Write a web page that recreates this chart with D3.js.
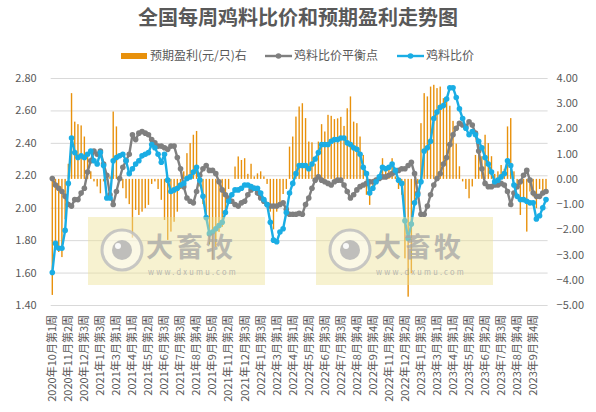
<!DOCTYPE html>
<html>
<head>
<meta charset="utf-8">
<title>全国每周鸡料比价和预期盈利走势图</title>
<script src="https://d3js.org/d3.v7.min.js"></script>
<style>
    body { margin: 0; background: #fff; }
    text { font-family: "Noto Sans CJK SC", "Noto Sans", sans-serif; fill: #595959; }
</style>
</head>
<body>
<script>
    // x axis labels, one every 5 weeks
    var tickLabels = [
        "2020年10月第1周", "2020年11月第2周", "2020年12月第3周", "2021年1月第3周",
        "2021年3月第1周", "2021年4月第1周", "2021年5月第2周", "2021年6月第3周",
        "2021年7月第3周", "2021年8月第4周", "2021年9月第5周", "2021年11月第2周",
        "2021年12月第3周", "2022年1月第3周", "2022年3月第1周", "2022年4月第1周",
        "2022年5月第2周", "2022年6月第3周", "2022年7月第3周", "2022年8月第4周",
        "2022年9月第4周", "2022年11月第2周", "2022年12月第2周", "2023年1月第3周",
        "2023年3月第1周", "2023年4月第1周", "2023年5月第2周", "2023年6月第2周",
        "2023年7月第3周", "2023年8月第4周", "2023年9月第4周"
    ];

    // 预期盈利(元/只), right axis
    var profit = [
        -4.6, -2.7, -2.9, -3.1, -1.6, 0.6, 3.40, 2.27, 2.17, 2.12,
        1.68, 0.9, 0.3, -0.1, -0.3, -0.57, -0.1, -0.05, 0.1, 2.67,
        2.08, 0.1, -0.37, -0.77, -1.0, -2.33, -1.23, -1.43, -1.30, -1.16,
        -1.03, -0.2, -0.1, -0.4, -0.83, -1.63, -2.42, -2.09, -1.7, -1.3,
        -0.4, 0.3, 1.02, 1.42, 1.75, 1.90, -0.3, -1.0, -1.6, -2.6,
        -3.2, -2.7, -2.1, -1.9, -1.3, -0.4, 0.0, 0.49, 0.89, 0.75,
        0.82, 0.2, 0.6, 0.1, 0.22, 0.3, 0.1, -0.2, -1.3, -2.0,
        -1.3, -1.1, -0.6, -0.4, 1.28, 1.68, 2.47, 2.87, 3.00, 2.41,
        1.48, 1.45, 0.6, 1.48, 2.17, 1.88, 2.54, 2.5, 2.37, 2.4,
        2.46, 2.1, 2.8, 3.27, 2.27, 2.21, 1.68, 0.95, -0.63, -1.03,
        -0.4, 0.05, 0.1, 0.82, 0.5, 0.55, 0.82, 0.1, -0.4, -0.63,
        -3.15, -4.67, -3.74, -1.0, -0.2, 2.21, 3.40, 3.27, 3.66, 3.73,
        3.6, 3.66, 3.2, 3.1, 2.9, 2.3, 1.4, 0.5, -0.1, -0.4,
        -0.77, -0.3, 0.95, 1.5, 0.9, 1.75, 1.42, 0.9, 0.2, 0.3,
        0.55, 0.4, 2.08, 2.41, 0.3, -0.3, -1.43, -0.9, -2.09, -0.5,
        -0.7, -1.16, -0.4, -0.57, -0.4
    ];

    // 鸡料比价平衡点, left axis
    var breakEven = [
        2.18, 2.14, 2.12, 2.10, 2.07, 2.02, 2.01, 2.05, 2.05, 2.09,
        2.12, 2.22, 2.29, 2.35, 2.33, 2.35, 2.27, 2.20, 2.08, 2.02,
        2.10, 2.18, 2.25, 2.29, 2.33, 2.45, 2.42, 2.46, 2.47, 2.46,
        2.45, 2.42, 2.40, 2.38, 2.38, 2.37, 2.36, 2.38, 2.38, 2.31,
        2.24, 2.13, 2.06, 2.04, 2.03, 2.10, 2.20, 2.24, 2.26, 2.23,
        2.23, 2.21, 2.16, 2.11, 2.08, 2.06, 2.04, 2.02, 2.01, 2.03,
        2.04, 2.08, 2.11, 2.12, 2.09, 2.06, 2.04, 2.02, 2.01, 2.01,
        2.01, 2.02, 2.03, 1.99, 1.96, 1.96, 1.96, 1.965, 1.96, 2.02,
        2.06, 2.12, 2.17, 2.19, 2.17, 2.16, 2.15, 2.14, 2.16, 2.17,
        2.17, 2.14, 2.10, 2.06, 2.08, 2.11, 2.13, 2.14, 2.15, 2.16,
        2.16, 2.17, 2.18, 2.19, 2.19, 2.20, 2.21, 2.22, 2.23, 2.24,
        2.24, 2.26, 2.28, 2.21, 2.09, 1.96, 1.96, 2.01, 2.08, 2.14,
        2.18, 2.21, 2.27, 2.31, 2.39, 2.45, 2.49, 2.52, 2.51, 2.50,
        2.53, 2.51, 2.46, 2.35, 2.24, 2.15, 2.13, 2.13, 2.14, 2.14,
        2.15, 2.14, 2.10, 2.02, 2.09, 2.13, 2.16, 2.20, 2.23, 2.17,
        2.09, 2.07, 2.07, 2.09, 2.10
    ];

    // 鸡料比价, left axis
    var ratio = [
        1.60, 1.78, 1.75, 1.75, 1.86, 2.15, 2.43, 2.34, 2.31, 2.32,
        2.31, 2.33, 2.35, 2.29, 2.27, 2.34, 2.26, 2.06, 2.06, 2.29,
        2.31, 2.32, 2.33, 2.29, 2.21, 2.24, 2.27, 2.29, 2.32, 2.33,
        2.34, 2.39, 2.37, 2.33, 2.28, 2.33, 2.17, 2.10, 2.11, 2.12,
        2.14, 2.15, 2.18, 2.19, 2.22, 2.25, 2.17, 2.07, 1.94, 1.84,
        1.85, 1.87, 1.89, 1.91, 1.97, 2.04, 2.08, 2.11, 2.11, 2.12,
        2.14, 2.14, 2.13, 2.12, 2.12, 2.09, 2.05, 2.02, 1.91, 1.80,
        1.79, 1.85, 1.87, 1.97, 2.09, 2.15, 2.21, 2.26, 2.26, 2.26,
        2.24, 2.27, 2.30, 2.34, 2.39, 2.39, 2.39, 2.41, 2.42, 2.42,
        2.43, 2.43, 2.40, 2.39, 2.37, 2.36, 2.33, 2.25, 2.21, 2.09,
        2.12, 2.16, 2.19, 2.25, 2.24, 2.25, 2.27, 2.23, 2.17, 2.15,
        1.92, 1.81, 1.90, 2.03, 2.08, 2.16, 2.35, 2.37, 2.41, 2.55,
        2.59, 2.62, 2.63, 2.67, 2.74, 2.74, 2.68, 2.61, 2.55, 2.49,
        2.45, 2.47, 2.45, 2.41, 2.37, 2.31, 2.27, 2.22, 2.16, 2.17,
        2.19, 2.21, 2.29, 2.26, 2.14, 2.07, 2.05, 2.05, 2.04, 2.03,
        2.03, 1.93, 1.95, 2.00, 2.05
    ];

    var leftTicks = [1.4, 1.6, 1.8, 2.0, 2.2, 2.4, 2.6, 2.8];
    var rightTicks = [-5, -4, -3, -2, -1, 0, 1, 2, 3, 4];

    var width = 596, height = 412;
    var plotLeft = 50.7, plotRight = 547.6, plotTop = 78, plotBottom = 305;

    var svg = d3.select("body")
        .append("svg")
        .attr("width", width)
        .attr("height", height);

    var x = d3.scaleBand()
        .domain(d3.range(ratio.length))
        .range([plotLeft, plotRight]);
    var cx = function (i) { return x(i) + x.bandwidth() / 2; };

    var yL = d3.scaleLinear().domain([1.4, 2.8]).range([plotBottom, plotTop]);
    var yR = d3.scaleLinear().domain([-5, 4]).range([plotBottom, plotTop]);

    // title
    svg.append("text")
        .attr("x", 298)
        .attr("y", 25)
        .attr("text-anchor", "middle")
        .style("font-size", "20px")
        .style("font-weight", "bold")
        .text("全国每周鸡料比价和预期盈利走势图");

    // gridlines
    var grid = svg.append("g")
        .attr("transform", "translate(" + plotLeft + ",0)")
        .call(d3.axisLeft(yL).tickValues(leftTicks).tickSize(-(plotRight - plotLeft)).tickFormat(""));
    grid.select(".domain").remove();
    grid.selectAll("line").attr("stroke", "#d9d9d9");

    // left axis labels
    var yAxisL = svg.append("g")
        .attr("transform", "translate(" + plotLeft + ",0)")
        .call(d3.axisLeft(yL).tickValues(leftTicks).tickSize(0).tickPadding(14).tickFormat(d3.format(".2f")));
    yAxisL.select(".domain").remove();
    yAxisL.selectAll("text").style("font-size", "11px").attr("fill", "#595959");

    // right axis labels
    var yAxisR = svg.append("g")
        .attr("transform", "translate(" + plotRight + ",0)")
        .call(d3.axisRight(yR).tickValues(rightTicks).tickSize(0).tickPadding(9).tickFormat(d3.format(".2f")));
    yAxisR.select(".domain").remove();
    yAxisR.selectAll("text").style("font-size", "11px").attr("fill", "#595959");

    // x axis labels
    var xAxis = svg.append("g")
        .attr("transform", "translate(0," + plotBottom + ")")
        .call(d3.axisBottom(x)
            .tickValues(d3.range(0, ratio.length, 5))
            .tickSize(0)
            .tickFormat(function (i) { return tickLabels[i / 5]; }));
    xAxis.select(".domain").remove();
    xAxis.selectAll("text")
        .attr("transform", "rotate(-90)")
        .attr("text-anchor", "end")
        .attr("x", -10)
        .attr("y", 0)
        .attr("dy", "0.35em")
        .attr("fill", "#595959")
        .style("font-size", "11px");

    // profit bars
    var barW = 1.4;
    svg.append("g")
        .selectAll("rect")
        .data(profit)
        .enter()
        .append("rect")
        .attr("x", (d, i) => cx(i) - barW / 2)
        .attr("y", d => Math.min(yR(d), yR(0)))
        .attr("width", barW)
        .attr("height", d => Math.abs(yR(d) - yR(0)))
        .attr("fill", "#E8910C");

    function drawSeries(values, color) {
        var line = d3.line()
            .x((d, i) => cx(i))
            .y(d => yL(d));
        var g = svg.append("g");
        g.append("path")
            .datum(values)
            .attr("d", line)
            .attr("fill", "none")
            .attr("stroke", color)
            .attr("stroke-width", 2.4)
            .attr("stroke-linejoin", "round");
        g.selectAll("circle")
            .data(values)
            .enter()
            .append("circle")
            .attr("cx", (d, i) => cx(i))
            .attr("cy", d => yL(d))
            .attr("r", 2.8)
            .attr("fill", color);
    }
    drawSeries(breakEven, "#7f7f7f");
    drawSeries(ratio, "#1AADE4");

    // watermarks
    [88, 316].forEach(function (wx) {
        var w = svg.append("g").attr("transform", "translate(" + wx + ",217)");
        w.append("rect")
            .attr("width", 177)
            .attr("height", 68)
            .attr("fill", "rgba(238,226,150,0.45)");
        w.append("circle")
            .attr("cx", 34).attr("cy", 33).attr("r", 20)
            .attr("fill", "rgba(255,255,255,0.45)")
            .attr("stroke", "rgba(190,190,190,0.85)")
            .attr("stroke-width", 3);
        w.append("circle")
            .attr("cx", 34).attr("cy", 33).attr("r", 10)
            .attr("fill", "rgba(180,180,180,0.85)");
        w.append("circle")
            .attr("cx", 30).attr("cy", 29).attr("r", 3)
            .attr("fill", "rgba(255,255,255,0.9)");
        w.append("text")
            .attr("x", 58).attr("y", 40)
            .style("font-size", "27px")
            .style("font-weight", "bold")
            .style("letter-spacing", "3px")
            .style("fill", "rgba(165,165,165,0.75)")
            .text("大畜牧");
        w.append("text")
            .attr("x", 60).attr("y", 58)
            .style("font-size", "7.5px")
            .style("letter-spacing", "2.2px")
            .style("fill", "rgba(165,165,165,0.8)")
            .text("www.dxumu.com");
    });

    // legend
    var legendItems = [
        { name: "预期盈利(元/只)右", type: "bar", color: "#E8910C", x: 121 },
        { name: "鸡料比价平衡点", type: "line", color: "#7f7f7f", x: 265 },
        { name: "鸡料比价", type: "line", color: "#1AADE4", x: 397 }
    ];
    var legend = svg.append("g").attr("transform", "translate(0,56)");
    legendItems.forEach(function (item) {
        if (item.type === "bar") {
            legend.append("rect")
                .attr("x", item.x).attr("y", -3)
                .attr("width", 26).attr("height", 6)
                .attr("fill", item.color);
        } else {
            legend.append("line")
                .attr("x1", item.x).attr("x2", item.x + 27)
                .attr("y1", 0).attr("y2", 0)
                .attr("stroke", item.color)
                .attr("stroke-width", 2.4);
            legend.append("circle")
                .attr("cx", item.x + 13.5).attr("cy", 0).attr("r", 2.8)
                .attr("fill", item.color);
        }
        legend.append("text")
            .attr("x", item.x + 29)
            .attr("y", 0)
            .attr("dy", "0.35em")
            .style("font-size", "12px")
            .text(item.name);
    });
</script>
</body>
</html>
